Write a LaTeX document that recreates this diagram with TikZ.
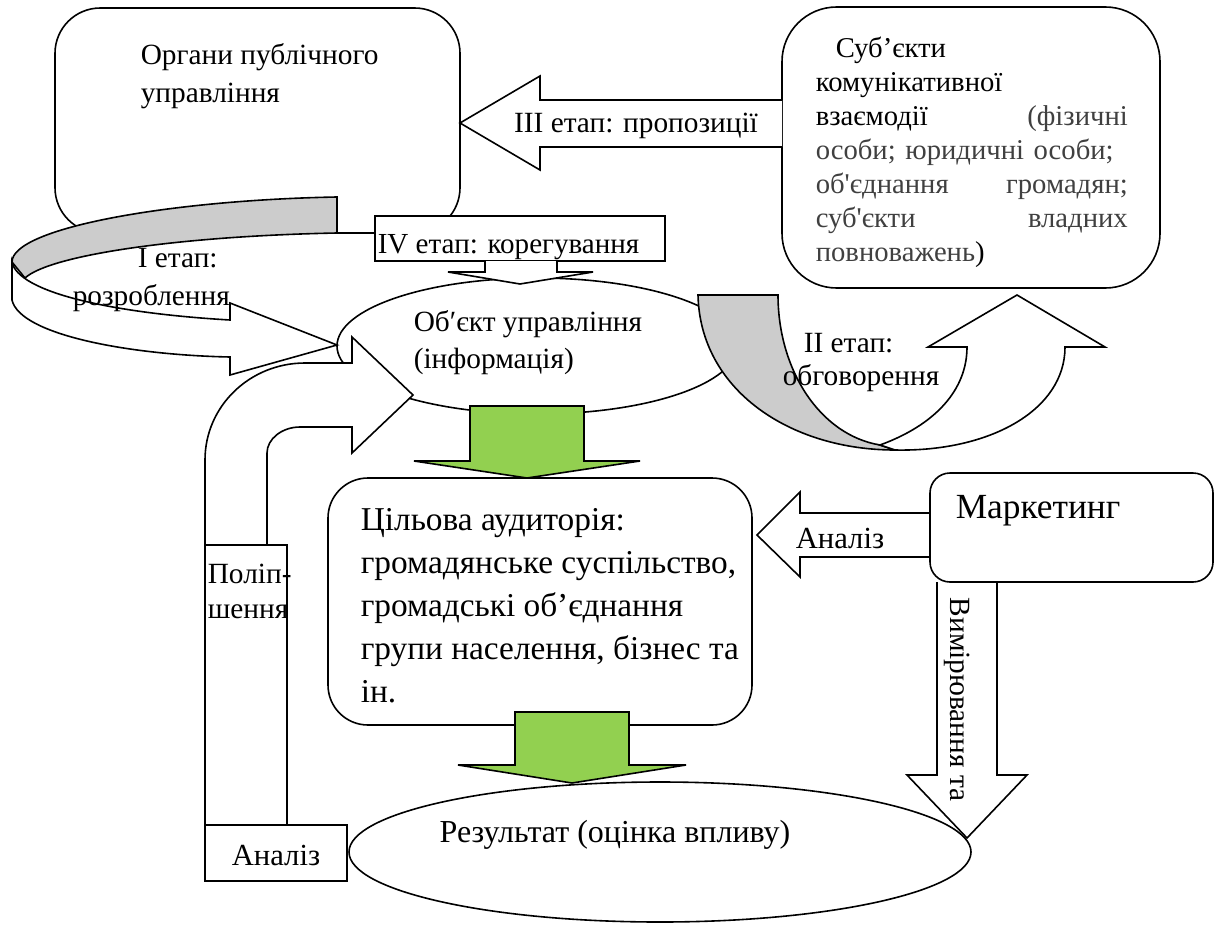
\documentclass[tikz,border=0pt]{standalone}
\usepackage{fontspec}
\setmainfont{Liberation Serif}[Ligatures=TeXOff]
\usetikzlibrary{shapes.geometric,fit}
\definecolor{bandgray}{HTML}{CCCCCC}
\definecolor{leafgreen}{HTML}{92D050}
\definecolor{softblack}{HTML}{404040}
\newcommand\setfs[2]{\fontsize{#1pt}{#2pt}\selectfont}
\newcommand\jline[1]{\makebox[234pt][s]{#1}}

\begin{document}
\begin{tikzpicture}[x=0.75pt, y=-0.75pt, line width=1.2pt,
  rbox/.style={draw, fill=white, inner sep=0pt, rounded corners=#1},
  sbox/.style={draw, fill=white, inner sep=0pt},
  oval/.style={draw, ellipse, inner sep=0pt},
  barrow/.style={draw, fill=white},
  lbl/.style={inner sep=0pt, anchor=base west, align=left},
]
\useasboundingbox (0,0) rectangle (1219,924);

% boxes at the top
\node[rbox=34pt, fit={(55,8) (460,233)}] (organy) {};
\node[rbox=41pt, fit={(782,7) (1160,288)}] (subjekty) {};
\node[oval, fill=white, minimum width=300pt, minimum height=102pt] (object) at (537,346) {};

% I etap
\filldraw[fill=bandgray] (337,197) .. controls (170,200) and (12,228) .. (12,262) -- (25,278) .. controls (50,255) and (180,236) .. (337,233) -- cycle;
\draw[barrow] (12,262) -- (12,300) .. controls (20,335) and (130,355) .. (230,357) -- (230,375) -- (337,345) -- (230,303) -- (230,320) .. controls (110,313) and (18,292) .. (12,262) -- cycle;

% improvement
\draw[barrow] (205,545) -- (205,460) .. controls (205,406) and (250,363) .. (305,363) -- (352,363) -- (352,337) -- (413,395) -- (352,453) -- (352,427) -- (300,427) .. controls (282,427) and (267,439) .. (267,453) -- (267,545) -- cycle;

% II etap
\filldraw[fill=bandgray] (698,295) -- (778,295) .. controls (778,370) and (820,435) .. (880,445) -- (895,450) .. controls (790,450) and (700,390) .. (698,295) -- cycle;
\draw[barrow] (880,445) .. controls (935,425) and (967,390) .. (967,347) -- (928,347) -- (1017,295) -- (1105,347) -- (1065,347) .. controls (1065,410) and (990,452) .. (895,450) -- cycle;

% IV etap
\node[sbox, fit={(375,216) (665,261)}] (korbox) {};
\draw[barrow] (485,261) -- (485,272) -- (448,272) -- (520,284) -- (593,272) -- (557,272) -- (557,261);

% III etap
\draw[barrow] (782,100) -- (540,100) -- (540,76) -- (460,123) -- (540,170) -- (540,147) -- (782,147);

\node[rbox=30pt, fit={(328,478) (752,725)}] (audience) {};

% green arrows
\draw[fill=leafgreen] (470,406) -- (584,406) -- (584,461) -- (640,461) -- (527,478) -- (414,461) -- (470,461) -- cycle;
\draw[fill=leafgreen] (515,712) -- (629,712) -- (629,765) -- (686,765) -- (572,783) -- (458,765) -- (515,765) -- cycle;

\draw[barrow] (937,582) -- (937,775) -- (907,775) -- (967,838) -- (1027,775) -- (997,775) -- (997,582);
\node[oval, minimum width=466.5pt, minimum height=105pt] (result) at (660,852) {};

\node[sbox, fit={(205,545) (287,825)}] (polipbox) {};
\node[sbox, fit={(205,825) (347,881)}] (analizbox) {};

\draw[barrow] (930,513) -- (800,513) -- (800,492) -- (757,535) -- (800,577) -- (800,557) -- (930,557);
\node[rbox=15pt, fit={(930,473) (1213,582)}] (marketing) {};

% texts
\node[lbl, font=\setfs{22}{28.5}] (organytxt) at (140,103) {Органи публічного\\управління};
\node[lbl, text width=234pt, font=\setfs{21.5}{25.4}] (subtxt) at (815,58) {\hspace*{15pt}Суб’єкти\\
комунікативної\\
\jline{взаємодії \hfill \textcolor{softblack}{(фізичні}}\\
\color{softblack}\jline{особи; юридичні особи;}\\
\jline{об'єднання \hfill громадян;}\\
\jline{суб'єкти \hfill владних}\\
повноважень\textcolor{black}{)}};
\node[lbl, font=\setfs{22}{27.75}] (objtxt) at (413,368) {Об′єкт управління\\(інформація)};
\node[lbl, font=\setfs{21.8}{24}] (kortxt) at (377,253) {IV етап: корегування};
\node[anchor=base, inner sep=0pt, font=\setfs{22}{26}] (proptxt) at (636,132) {III етап: пропозиції};
\node[lbl, font=\setfs{22}{28.5}] (rozrtxt) at (72,305) {\hspace*{48.75pt}I етап:\\розроблення};
\node[lbl, font=\setfs{22}{24.75}] (obgtxt) at (782,385) {\hspace*{15.75pt}II етап:\\обговорення};
\node[lbl, font=\setfs{25}{32.25}] (audtxt) at (360,702) {Цільова аудиторія:\\громадянське суспільство,\\громадські об’єднання\\групи населення, бізнес та\\ін.};
\node[lbl, font=\setfs{26.5}{32}] (markettxt) at (955,518) {Маркетинг};
\node[lbl, font=\setfs{23}{27}] (analiztxt) at (795,548) {Аналіз};
\node[lbl, rotate=-90, font=\setfs{22}{26}] (vymtxt) at (950,597) {Вимірювання та};
\node[anchor=base, inner sep=0pt, font=\setfs{24}{28}] (restxt) at (615,842) {Результат (оцінка впливу)};
\node[anchor=base, inner sep=0pt, font=\setfs{23}{27}] (analiz2txt) at (276,865) {Аналіз};
\node[lbl, font=\setfs{22}{26.25}] (poliptxt) at (207,618) {Поліп-\\шення};
\end{tikzpicture}
\end{document}
